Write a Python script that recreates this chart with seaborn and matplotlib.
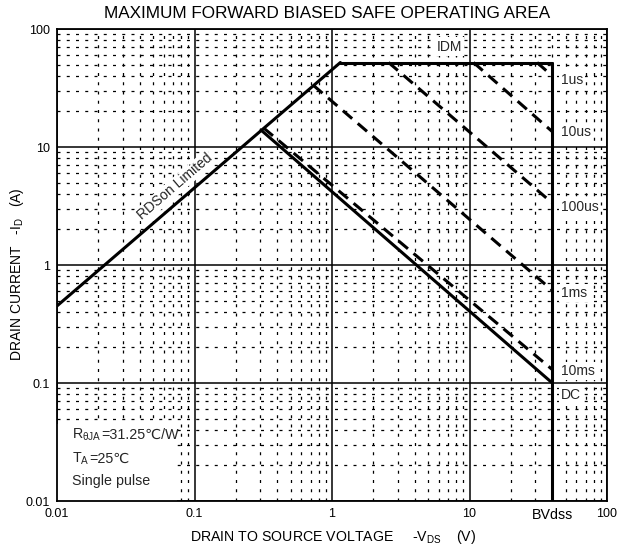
import numpy as np
import pandas as pd
import matplotlib
matplotlib.use("Agg")
import matplotlib.pyplot as plt
from matplotlib.patches import Rectangle
import seaborn as sns
from matplotlib.ticker import FixedLocator, FixedFormatter, LogLocator, FuncFormatter

sns.set_theme(style="white")
plt.rcParams['font.family'] = ['Liberation Sans', 'DejaVu Sans']
plt.rcParams['mathtext.fontset'] = 'custom'
plt.rcParams['mathtext.rm'] = 'Liberation Sans'
plt.rcParams['mathtext.it'] = 'Liberation Sans'
plt.rcParams['mathtext.default'] = 'regular'

# ---- data ----
rdson_v = [0.01, 1.15]
rdson_i = [0.45, 52]
idm_v = [1.15, 40]
idm_i = [52, 52]
bvdss_v = [40, 40]
bvdss_i = [52, 0.01]
dc_v = [0.305, 40]
dc_i = [13.9, 0.1]

pulse_labels = ["1us", "10us", "100us", "1ms", "10ms"]
pulse_v_start = [31, 10.7, 2.58, 0.73, 0.318]
pulse_i_start = [52, 52, 52, 33.4, 14.5]
pulse_v_end = [40, 40, 40, 40, 40]
pulse_i_end = [40, 13.5, 3.35, 0.61, 0.13]

x_ticks = [0.01, 0.1, 1, 10, 100]
x_tick_labels = ["0.01", "0.1", "1", "10", "100"]
y_ticks = [0.01, 0.1, 1, 10, 100]
y_tick_labels = ["0.01", "0.1", "1", "10", "100"]
bvdss_label = "BVdss"

fig = plt.figure(figsize=(6.19, 5.53), dpi=100)
ax = fig.add_axes([57/619, 1-501/553, 550/619, 472/553])
ax.set_xscale('log')
ax.set_yscale('log')
ax.set_xlim(0.01, 100)
ax.set_ylim(0.01, 100)

# ticks & grid
ax.xaxis.set_major_locator(FixedLocator(x_ticks))
ax.xaxis.set_major_formatter(FixedFormatter(x_tick_labels))
ax.yaxis.set_major_locator(FixedLocator(y_ticks))
ax.yaxis.set_major_formatter(FixedFormatter(y_tick_labels))
ax.xaxis.set_minor_locator(LogLocator(base=10, subs=np.arange(2, 10)))
ax.yaxis.set_minor_locator(LogLocator(base=10, subs=np.arange(2, 10)))
ax.xaxis.set_minor_formatter(FuncFormatter(lambda v, p: bvdss_label if abs(v - bvdss_v[0]) < 1e-6 else ""))
ax.yaxis.set_minor_formatter(FuncFormatter(lambda v, p: ""))
ax.grid(which='major', color='black', lw=1.1, ls='-')
ax.grid(which='minor', color='black', lw=0.9, ls=(0, (2.4, 5.0)))
ax.set_axisbelow(True)
ax.tick_params(which='both', direction='in', colors='black', labelsize=9, pad=5)
ax.tick_params(which='major', length=4, width=1)
ax.tick_params(which='minor', length=2.5, width=0.8)
for lbl in ax.xaxis.get_minorticklabels():
    lbl.set_fontsize(10.3)
for s in ax.spines.values():
    s.set_color('black')
    s.set_linewidth(1.3)

# blank area behind the note text
ax.add_patch(Rectangle((0.01, 0.01), 0.0646, 0.035, facecolor='white', edgecolor='none', zorder=1))

lw = 2.2
for v, i in [(rdson_v, rdson_i), (idm_v, idm_i), (bvdss_v, bvdss_i), (dc_v, dc_i)]:
    sns.lineplot(x=v, y=i, ax=ax, color='black', lw=lw, estimator=None, sort=False, legend=False)

for k in range(len(pulse_labels)):
    sns.lineplot(x=[pulse_v_start[k], pulse_v_end[k]], y=[pulse_i_start[k], pulse_i_end[k]],
                 ax=ax, color='black', lw=lw, estimator=None, sort=False, legend=False)
    ax.lines[-1].set_dashes((4.0, 2.4))

box = dict(facecolor='white', edgecolor='none', pad=1.5)
lbl_factor = [0.93, 1.0, 0.93, 0.95, 0.97]
for k, lab in enumerate(pulse_labels):
    ax.text(46, pulse_i_end[k] * lbl_factor[k], lab, fontsize=10, ha='left', va='center', bbox=box, zorder=5)
ax.text(46, dc_i[1] * 0.79, "DC", fontsize=10, ha='left', va='center', bbox=box, zorder=5)
ax.text(7.1, 71, "IDM", fontsize=10, ha='center', va='center', bbox=box, zorder=5)
ax.text(0.072, 4.6, "RDSon Limited", fontsize=10, ha='center', va='center', rotation=40.6,
        rotation_mode='anchor', bbox=dict(facecolor='white', edgecolor='none', pad=1.0), zorder=5)

# notes (℃ drawn as plain text so the font fallback list applies)
t1 = ax.text(0.0128, 0.0335, r"R$_{\theta JA}$", fontsize=10.3, ha='left', va='baseline', zorder=5)
ax.annotate("=31.25℃/W", xy=(1, 0.0335), xycoords=(t1, 'data'), fontsize=10.3,
            ha='left', va='baseline', zorder=5)
t2 = ax.text(0.0128, 0.0212, r"T$_{A}$", fontsize=10.3, ha='left', va='baseline', zorder=5)
ax.annotate("=25℃", xy=(1, 0.0212), xycoords=(t2, 'data'), fontsize=10.3,
            ha='left', va='baseline', zorder=5)
ax.text(0.0128, 0.0137, "Single pulse", fontsize=10.3, ha='left', va='baseline', zorder=5)

fig.text(327/619, 1-14/553, "MAXIMUM FORWARD BIASED SAFE OPERATING AREA", fontsize=12.3,
         ha='center', va='center', color='black')
fig.text(333/619, 1-537/553, r"DRAIN TO SOURCE VOLTAGE     -V$_{DS}$    (V)", fontsize=10.2,
         ha='center', va='center', color='black')
fig.text(17/619, 1-274/553, r"DRAIN CURRENT   -I$_{D}$   (A)", fontsize=10, rotation=90,
         ha='center', va='center', color='black')

fig.savefig("out.png", dpi=100, facecolor='white')
